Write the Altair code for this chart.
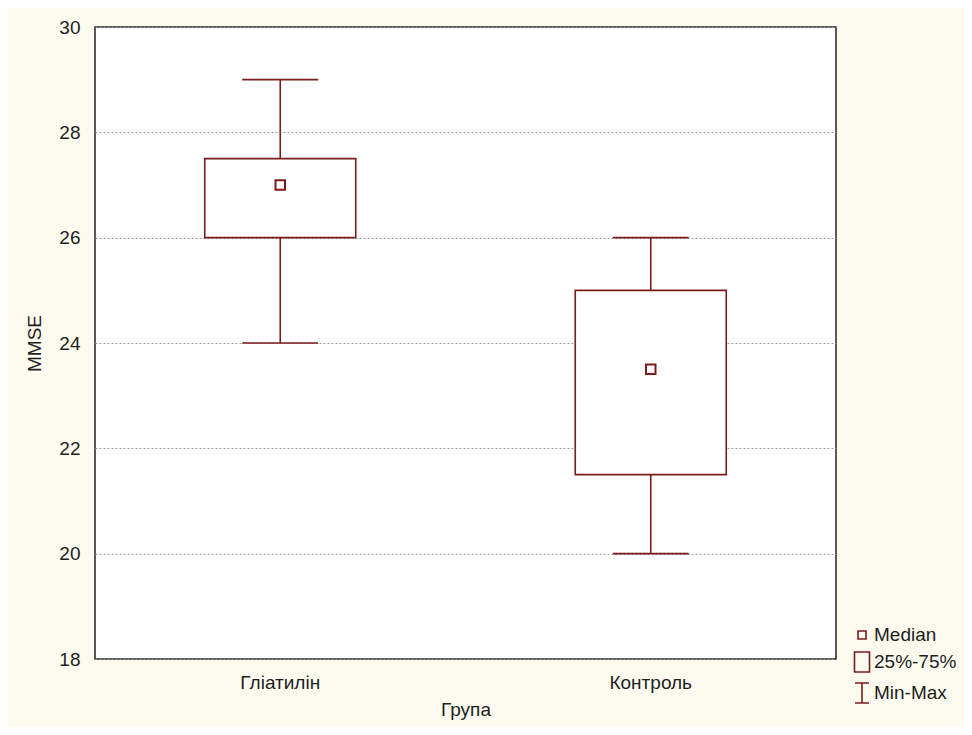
import altair as alt
import pandas as pd

groups = ["Гліатилін", "Контроль"]
mins = [24, 20]
q1s = [26, 21.5]
medians = [27, 23.5]
q3s = [27.5, 25]
maxs = [29, 26]

legend_labels = ["Median", "25%-75%", "Min-Max"]
legend_paths = [
    "M-0.4,-0.4H0.4V0.4H-0.4Z",
    "M-0.75,-1H0.75V1H-0.75Z",
    "M-0.7,-1H0.7M0,-1V1M-0.7,1H0.7",
]
y_ticks = [18, 20, 22, 24, 26, 28, 30]

MAROON = "#7a1c1c"
FONT = "Liberation Sans"
TXT = "#1e1e1e"

df = pd.DataFrame({"group": groups, "min": mins, "q1": q1s, "median": medians,
                   "q3": q3s, "max": maxs})
leg_df = pd.DataFrame({"item": legend_labels, "group": [groups[0]] * 3,
                       "median": [medians[0]] * 3})

x_enc = alt.X("group:N", sort=groups,
              scale=alt.Scale(type="band", paddingInner=0, paddingOuter=0),
              axis=alt.Axis(title="Група", labelAngle=0, ticks=False, domain=False,
                            labelPadding=14, titlePadding=8))
y_scale = alt.Scale(domain=[18, 30], nice=False, zero=False)
y_axis = alt.Axis(title="MMSE", values=y_ticks, ticks=False, domain=False,
                  labelPadding=15, titlePadding=14,
                  grid=True, gridColor="#9a9a9a", gridDash=[2, 2], gridWidth=1)

base = alt.Chart(df)

whisk = base.mark_rule(color=MAROON, strokeWidth=1.6).encode(
    x=x_enc, y=alt.Y("min:Q", scale=y_scale, axis=y_axis), y2="max:Q")
box = base.mark_bar(fill="white", stroke=MAROON, strokeWidth=1.6, size=151).encode(
    x=x_enc, y=alt.Y("q1:Q", scale=y_scale, axis=y_axis), y2="q3:Q")
cap_lo = base.mark_tick(color=MAROON, size=76, thickness=1.6, opacity=1).encode(
    x=x_enc, y=alt.Y("min:Q", scale=y_scale, axis=y_axis))
cap_hi = base.mark_tick(color=MAROON, size=76, thickness=1.6, opacity=1).encode(
    x=x_enc, y=alt.Y("max:Q", scale=y_scale, axis=y_axis))
med = base.mark_point(shape="square", size=90, filled=False, color=MAROON,
                      strokeWidth=2, opacity=1).encode(
    x=x_enc, y=alt.Y("median:Q", scale=y_scale, axis=y_axis))

leg = alt.Chart(leg_df).mark_point(filled=False, color=MAROON, opacity=0).encode(
    x=x_enc,
    y=alt.Y("median:Q", scale=y_scale, axis=y_axis),
    shape=alt.Shape("item:N", sort=legend_labels,
                    scale=alt.Scale(domain=legend_labels, range=legend_paths),
                    legend=alt.Legend(title=None, orient="none", legendX=756, legendY=597,
                                      symbolSize=400, symbolStrokeWidth=1.6,
                                      symbolStrokeColor=MAROON,
                                      symbolFillColor="transparent", symbolOpacity=1,
                                      labelFontSize=19, labelFont=FONT, labelColor=TXT,
                                      labelOffset=1, rowPadding=3, labelLimit=300)),
)

chart = alt.layer(whisk, box, cap_lo, cap_hi, med, leg).properties(
    width=741, height=632,
    autosize=alt.AutoSizeParams(type="none"),
    padding={"left": 87, "top": 19, "right": 128, "bottom": 68},
    background="#fdfbf0",
).configure_view(
    fill="white", stroke="#222222", strokeWidth=1.5
).configure_axis(
    labelFont=FONT, titleFont=FONT, labelFontSize=19, titleFontSize=19,
    labelColor=TXT, titleColor=TXT, titleFontWeight="normal"
)

chart.save("out.html", embed_options={"renderer": "svg", "actions": False})
